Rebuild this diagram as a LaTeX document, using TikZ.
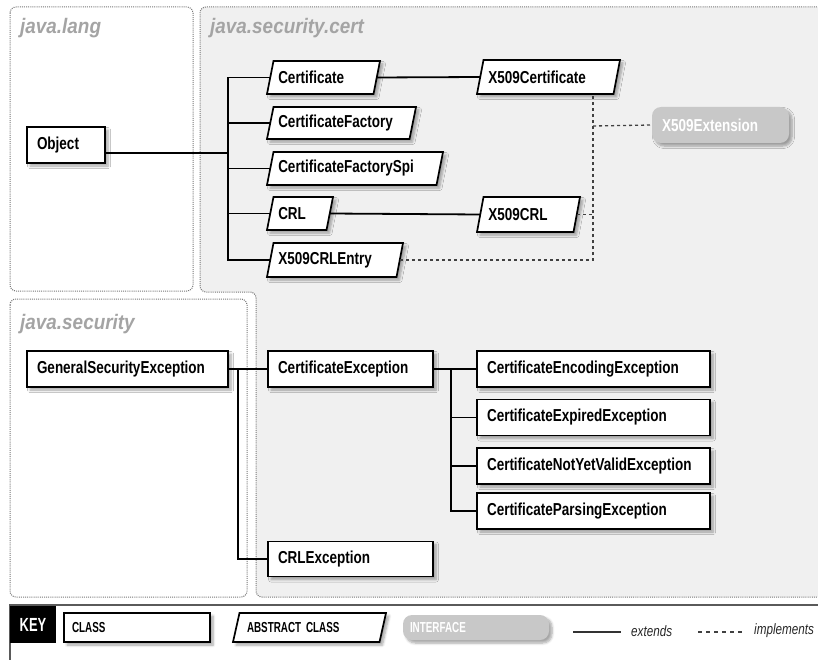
\documentclass[tikz,border=0pt]{standalone}
\usepackage{fontspec}
\setmainfont{Liberation Sans}
\newfontfamily\clsfont[FakeStretch=0.78]{Liberation Sans}
\newfontfamily\pkgfont[FakeStretch=0.9]{Liberation Sans}
\newfontfamily\keyfont[FakeStretch=0.68]{Liberation Sans}
\usetikzlibrary{shadows.blur}

\definecolor{certbg}{HTML}{F0F0F0}
\definecolor{pkgline}{HTML}{777777}
\definecolor{pkgtext}{HTML}{A4A4A4}
\definecolor{ifacefill}{HTML}{C8C8C8}
\definecolor{impl}{HTML}{404040}
\definecolor{keyrule}{HTML}{5A5A5A}

\tikzset{
  shad/.style={blur shadow={shadow xshift=3pt, shadow yshift=-3pt,
      shadow blur radius=2.5pt, shadow opacity=35, shadow blur steps=6}},
  clsfnt/.style={font=\clsfont\bfseries\fontsize{17.3pt}{19pt}\selectfont},
  cls/.style={rectangle, draw, line width=1.7pt, fill=white, shad, clsfnt,
      inner xsep=10pt, inner ysep=0pt, align=left, minimum height=36pt},
  % abstract classes: the node holds text and anchors, the slanted
  % outline is drawn just before it
  abscls/.style={rectangle, clsfnt, inner xsep=8pt, inner ysep=0pt,
      outer sep=0pt, align=left},
  absshape/.style={draw, line width=1.7pt, fill=white, line join=miter, shad},
  iface/.style={rectangle, rounded corners=9pt, fill=ifacefill, text=white,
      shad, clsfnt, inner xsep=2pt, inner ysep=0pt, align=left},
  pkgbox/.style={draw=pkgline, line width=1pt, dash pattern=on 1pt off 1.1pt,
      rounded corners=6pt},
  pkglabel/.style={anchor=base west, text=pkgtext, inner sep=0pt,
      font=\pkgfont\bfseries\itshape\fontsize{21pt}{24pt}\selectfont},
  ext/.style={draw=black, line width=1.8pt},
  implm/.style={draw=impl, line width=1.3pt, dash pattern=on 3pt off 3pt},
  keyfnt/.style={font=\keyfont\bfseries\fontsize{14.5pt}{16pt}\selectfont},
  legendtext/.style={anchor=west, inner sep=0pt, text=black!85,
      font=\clsfont\itshape\fontsize{15pt}{17pt}\selectfont},
}

% abstract class: slanted outline of width #5 and height #6 centred on
% (#3,#4), then a node #2 whose west/east anchors lie on the slanted sides
\newcommand\absnode[7][]{%
  \path[absshape] ({#3-#5/2},{#4+#6/2}) -- ({#3-#5/2+6.5},{#4-#6/2})
    -- ({#3+#5/2},{#4-#6/2}) -- ({#3+#5/2-6.5},{#4+#6/2}) -- cycle;
  \node[abscls, minimum height=#6pt, #1] (#2) at (#3,#4) {#7};}

\begin{document}
\begin{tikzpicture}[x=1pt,y=-1pt]
\useasboundingbox (0,0) rectangle (818,660);

% package areas
\path[pkgbox, fill=certbg] (840,7) -- (200,7) -- (200,292) -- (256,292)
  -- (256,597) -- (840,597);
\path[pkgbox, fill=white] (10,7) rectangle (193,291);
\path[pkgbox, fill=white] (10,299) rectangle (247,597);

\node[pkglabel] (lang) at (20,34) {java.lang};
\node[pkglabel] (cert) at (210,34) {java.security.cert};
\node[pkglabel] (sec) at (20,329) {java.security};

% java.lang
\node[cls, text width=58pt] (Object) at (66,145) {Object};

% java.security.cert
\absnode[text width=90.5pt]{Certificate}{323.5}{77.5}{113}{33}{Certificate}
\absnode[text width=126.5pt]{CertFactory}{341.5}{123}{149}{32}{CertificateFactory}
\absnode[text width=153.5pt]{CertFactorySpi}{355}{168.5}{176}{33}{CertificateFactorySpi}
\absnode[text width=43.5pt]{CRL}{300}{213.5}{66}{33}{CRL}
\absnode[text width=113.5pt]{CRLEntry}{335}{260}{136}{34}{X509CRLEntry}
\absnode[text width=120.5pt]{X509Cert}{548.5}{77}{143}{34}{X509Certificate}
\absnode[text width=80.5pt]{X509CRL}{528.5}{214.5}{103}{35}{X509CRL}
\node[iface, minimum width=137pt, minimum height=36pt, text width=117pt]
  (X509Ext) at (720.5,125) {X509Extension};

% exceptions
\node[cls, text width=181pt] (GSE) at (127.5,369) {GeneralSecurityException};
\node[cls, text width=145pt] (CertExc) at (350.5,369) {CertificateException};
\node[cls, text width=145pt, minimum height=35pt] (CRLExc) at (350.5,559) {CRLException};
\node[cls, text width=213pt] (EncExc) at (593.5,369) {CertificateEncodingException};
\node[cls, text width=213pt] (ExpExc) at (593.5,417.5) {CertificateExpiredException};
\node[cls, text width=213pt] (NYVExc) at (593.5,466) {CertificateNotYetValidException};
\node[cls, text width=213pt] (ParExc) at (593.5,511) {CertificateParsingException};

% junction points
\coordinate (tr) at (228,153);
\coordinate (gb) at (238,369);
\coordinate (sb) at (451,369);
\coordinate (ib) at (593,126);

% extends
\draw[ext] ([yshift=-8pt]Object.east) -- (tr);
\draw[ext] (Certificate.west) -- (tr |- Certificate.west)
  -- (tr |- CRLEntry.west) -- (CRLEntry.west);
\draw[ext] (tr |- CertFactory.west) -- (CertFactory.west);
\draw[ext] (tr |- CertFactorySpi.west) -- (CertFactorySpi.west);
\draw[ext] (tr |- CRL.west) -- (CRL.west);
\draw[ext] (Certificate.east) -- (X509Cert.west);
\draw[ext] (CRL.east) -- (X509CRL.west);

\draw[ext] (GSE.east) -- (CertExc.west);
\draw[ext] (gb) -- (gb |- CRLExc.west) -- (CRLExc.west);
\draw[ext] (CertExc.east) -- (EncExc.west);
\draw[ext] (sb) -- (sb |- ParExc.west) -- (ParExc.west);
\draw[ext] (sb |- ExpExc.west) -- (ExpExc.west);
\draw[ext] (sb |- NYVExc.west) -- (NYVExc.west);

% implements
\draw[implm] (CRLEntry.east) -- (ib |- CRLEntry.east) -- (ib |- X509Cert.south);
\draw[implm] (X509CRL.east) -- (ib |- X509CRL.east);
\draw[implm] (ib) -- (X509Ext.west);

% key row
\draw[draw=keyrule, line width=1.5pt] (10,660) -- (10,605) -- (830,605);
\node[fill=black, text=white, minimum width=46pt, minimum height=37pt,
  inner sep=0pt, font=\keyfont\bfseries\fontsize{19pt}{21pt}\selectfont]
  (keyhead) at (33,624.5) {KEY};
\node[cls, keyfnt, text width=130pt, inner xsep=8pt, minimum height=29pt]
  (keycls) at (137,627.5) {CLASS};
\absnode[keyfnt, text width=125pt, inner xsep=10.75pt]{keyabs}{309.5}{627.5}{153}{29}{ABSTRACT CLASS}
\node[iface, keyfnt, minimum width=146pt, minimum height=25pt, text width=132pt]
  (keyif) at (476,627.5) {INTERFACE};
\coordinate (e1) at (573,632);
\coordinate (e2) at (621,632);
\draw[draw=black!80, line width=2.6pt] (e1) -- (e2);
\node[legendtext] (exttext) at (631,631) {extends};
\coordinate (i1) at (698,632);
\coordinate (i2) at (745,632);
\draw[draw=impl, line width=1.2pt, dash pattern=on 4pt off 4pt] (i1) -- (i2);
\node[legendtext] (impltext) at (754,631) {implements};
\end{tikzpicture}
\end{document}
